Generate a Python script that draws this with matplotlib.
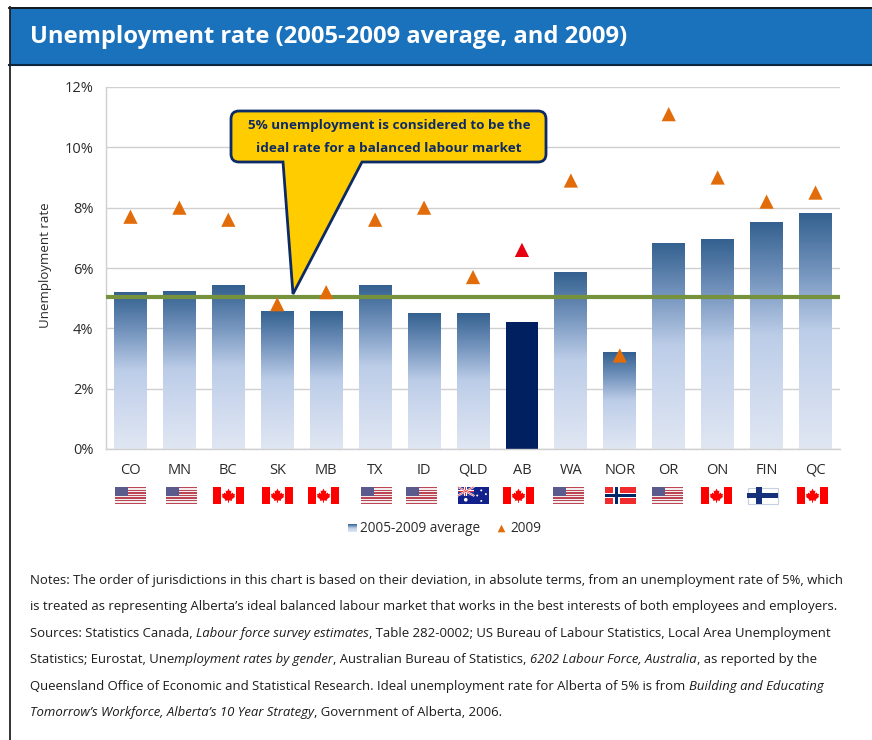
#!/usr/bin/env python3
# -*- coding: utf-8 -*-

"""Unemployment rate by jurisdiction: 2005-2009 average and 2009."""

import numpy as np
import matplotlib
matplotlib.use("Agg")
import matplotlib.pyplot as plt
from matplotlib.colors import LinearSegmentedColormap
from matplotlib.patches import PathPatch, Polygon, Rectangle
from matplotlib.path import Path

plt.rcParams['font.family'] = ['Open Sans', 'DejaVu Sans']

# Data
jurisdictions = ['CO', 'MN', 'BC', 'SK', 'MB', 'TX', 'ID', 'QLD', 'AB', 'WA', 'NOR', 'OR', 'ON', 'FIN', 'QC']
avg_2005_2009 = [5.2, 5.25, 5.42, 4.58, 4.58, 5.45, 4.52, 4.52, 4.2, 5.87, 3.2, 6.83, 6.95, 7.53, 7.83]
rate_2009 = [7.7, 8.0, 7.6, 4.8, 5.2, 7.6, 8.0, 5.7, 6.6, 8.9, 3.1, 11.1, 9.0, 8.2, 8.5]
flags = ['us', 'us', 'ca', 'ca', 'ca', 'us', 'us', 'au', 'ca', 'us', 'no', 'us', 'ca', 'fi', 'ca']
ideal_rate = 5.05
highlight = 'AB'
y_ticks = [0, 2, 4, 6, 8, 10, 12]

title = 'Unemployment rate (2005-2009 average, and 2009)'
callout_lines = ['5% unemployment is considered to be the', 'ideal rate for a balanced labour market']

# Each line is a list of (text, is_italic) runs
notes = [
    [("Notes: The order of jurisdictions in this chart is based on their deviation, in absolute terms, from an unemployment rate of 5%, which", False)],
    [("is treated as representing Alberta\u2019s ideal balanced labour market that works in the best interests of both employees and employers.", False)],
    [("Sources: Statistics Canada, ", False), ("Labour force survey estimates", True),
     (", Table 282-0002; US Bureau of Labour Statistics, Local Area Unemployment", False)],
    [("Statistics; Eurostat, Une", False), ("mployment rates by gender", True),
     (", Australian Bureau of Statistics, ", False), ("6202 Labour Force, Australia", True),
     (", as reported by the", False)],
    [("Queensland Office of Economic and Statistical Research. Ideal unemployment rate for Alberta of 5% is from ", False),
     ("Building and Educating", True)],
    [("Tomorrow\u2019s Workforce, Alberta\u2019s 10 Year Strategy", True), (", Government of Alberta, 2006.", False)],
]

# Layout, in pixels of the 872x740 canvas
W, H = 872, 740
PLOT_LEFT, PLOT_RIGHT, PLOT_TOP, PLOT_BOTTOM = 106, 840, 87, 449
FLAG_LEFT = [115, 166, 213, 262, 308, 361, 406, 458, 503, 553, 605, 652, 701, 747, 797]
FLAG_TOP, FLAG_W, FLAG_H = 487, 31, 17

TEXT_COLOR = '#2b2b2b'
GRID_COLOR = '#d0d0d0'
NAVY = '#0c2a66'
MARKER_COLOR = '#e36c0a'

bar_cmap = LinearSegmentedColormap.from_list(
    'bar_fade', ['#33608f', '#7494bd', '#bccde8', '#cfdaee', '#e0e7f3'])
gradient = np.linspace(0, 1, 256).reshape(-1, 1)

fig = plt.figure(figsize=(W / 100, H / 100), dpi=100, facecolor='white')

ax = fig.add_axes([PLOT_LEFT / W, 1 - PLOT_BOTTOM / H,
                   (PLOT_RIGHT - PLOT_LEFT) / W, (PLOT_BOTTOM - PLOT_TOP) / H])
overlay = fig.add_axes([0, 0, 1, 1], zorder=5)
overlay.set_xlim(0, W)
overlay.set_ylim(H, 0)
overlay.axis('off')
overlay.patch.set_alpha(0)


def draw_plot():
    x = np.arange(len(jurisdictions))
    bars = ax.bar(x, avg_2005_2009, width=0.67, color='none', zorder=2)
    for name, bar, val in zip(jurisdictions, bars, avg_2005_2009):
        if name == highlight:
            bar.set_facecolor('#002060')
            continue
        left = bar.get_x()
        im = ax.imshow(gradient, cmap=bar_cmap, aspect='auto', zorder=2,
                       extent=(left, left + bar.get_width(), 0, val), origin='upper')
        im.set_clip_path(bar)

    ax.axhline(ideal_rate, color='#76923c', lw=3, zorder=3)

    # 2009 markers, Alberta picked out in red
    point_colors = ['#e60012' if j == highlight else MARKER_COLOR for j in jurisdictions]
    ax.scatter(x, rate_2009, marker='^', s=105, c=point_colors, linewidths=0, zorder=4)

    ax.set_xlim(-0.5, len(jurisdictions) - 0.5)
    ax.set_ylim(0, 12)
    ax.set_yticks(y_ticks)
    ax.set_yticklabels([f'{t}%' for t in y_ticks], fontsize=10.5, color=TEXT_COLOR)
    ax.set_xticks(x)
    ax.set_xticklabels(jurisdictions, fontsize=10.5, color=TEXT_COLOR)
    ax.tick_params(axis='both', length=0)
    ax.tick_params(axis='x', pad=10)
    ax.tick_params(axis='y', pad=9)
    ax.grid(True, axis='y', color=GRID_COLOR, lw=1, zorder=0)
    ax.set_axisbelow(True)
    for side in ['top', 'right']:
        ax.spines[side].set_visible(False)
    for side in ['left', 'bottom']:
        ax.spines[side].set_color(GRID_COLOR)
        ax.spines[side].set_linewidth(1)
    overlay.text(46, 265, 'Unemployment rate', rotation=90, ha='center', va='center',
                 fontsize=9.5, color=TEXT_COLOR)


def draw_frame():
    overlay.add_patch(Rectangle((10, 7), W - 10, 58, fc='#1a72bc', ec='none'))
    overlay.plot([9, W], [7.5, 7.5], color='#111111', lw=1.3)
    overlay.plot([9, W], [65, 65], color='#10263f', lw=1.5)
    overlay.plot([9.5, 9.5], [7, H], color='#222222', lw=1.3)
    overlay.text(30, 37, title, color='white', fontsize=17.1, fontweight='bold',
                 ha='left', va='center')


def draw_callout():
    l, r, t, b, rad = 231, 546, 111, 162, 8
    verts = [(l + rad, t), (r - rad, t), (r, t), (r, t + rad), (r, b - rad), (r, b), (r - rad, b),
             (362, b), (293, 294), (283, b),
             (l + rad, b), (l, b), (l, b - rad), (l, t + rad), (l, t), (l + rad, t)]
    codes = [Path.MOVETO, Path.LINETO, Path.CURVE3, Path.CURVE3, Path.LINETO, Path.CURVE3, Path.CURVE3,
             Path.LINETO, Path.LINETO, Path.LINETO,
             Path.LINETO, Path.CURVE3, Path.CURVE3, Path.LINETO, Path.CURVE3, Path.CURVE3]
    overlay.add_patch(PathPatch(Path(verts, codes), fc='#ffcc00', ec=NAVY, lw=2, joinstyle='miter'))
    for text, y in zip(callout_lines, [125, 149]):
        overlay.text((l + r) / 2 + 0.5, y, text, color=NAVY, fontsize=9.7, fontweight='bold',
                     ha='center', va='center')


def maple_leaf(cx, cy, s):
    leaf = [(0, -1), (0.2, -0.6), (0.45, -0.7), (0.35, -0.2), (0.65, -0.4), (0.75, -0.15), (1, -0.2),
            (0.9, 0.15), (1, 0.25), (0.5, 0.65), (0.55, 0.85), (0.07, 0.8), (0.07, 1.15),
            (-0.07, 1.15), (-0.07, 0.8), (-0.55, 0.85), (-0.5, 0.65), (-1, 0.25), (-0.9, 0.15),
            (-1, -0.2), (-0.75, -0.15), (-0.65, -0.4), (-0.35, -0.2), (-0.45, -0.7), (-0.2, -0.6)]
    return Polygon([(cx + s * a, cy + s * b) for a, b in leaf], fc='#ff0000', ec='none')


def draw_flag(kind, x, y, w, h):
    rect = lambda x0, y0, ww, hh, c: overlay.add_patch(Rectangle((x0, y0), ww, hh, fc=c, ec='none'))
    if kind == 'us':
        for i in range(13):
            rect(x, y + i * h / 13, w, h / 13 + 0.1, '#bd4654' if i % 2 == 0 else '#f3ecec')
        rect(x, y, w * 0.41, h * 7 / 13, '#5a5a8c')
    elif kind == 'ca':
        rect(x, y, w, h, 'white')
        rect(x, y, w / 4, h, '#ff0000')
        rect(x + w * 3 / 4, y, w / 4, h, '#ff0000')
        overlay.add_patch(maple_leaf(x + w / 2, y + h * 0.48, 6.6))
    elif kind == 'no':
        rect(x, y, w, h, '#ef2b2d')
        rect(x + w * 0.27, y, w * 0.2, h, 'white')
        rect(x, y + h * 0.36, w, h * 0.28, 'white')
        rect(x + w * 0.33, y, w * 0.09, h, '#002868')
        rect(x, y + h * 0.43, w, h * 0.14, '#002868')
    elif kind == 'fi':
        rect(x, y, w, h, 'white')
        overlay.add_patch(Rectangle((x + 0.5, y + 0.5), w - 1, h - 1, fc='none', ec='#c5cfe2', lw=0.8))
        rect(x + w * 0.3, y, w * 0.18, h, '#16307c')
        rect(x, y + h * 0.38, w, h * 0.26, '#16307c')
    elif kind == 'au':
        rect(x, y, w, h, '#12208c')
        cw, ch = w / 2, h / 2
        rect(x, y, cw, ch, '#2b3a9a')
        overlay.plot([x, x + cw], [y, y + ch], color='white', lw=1.4)
        overlay.plot([x, x + cw], [y + ch, y], color='white', lw=1.4)
        overlay.plot([x, x + cw], [y, y + ch], color='#e0303a', lw=0.5)
        overlay.plot([x, x + cw], [y + ch, y], color='#e0303a', lw=0.5)
        rect(x + cw / 2 - 1.5, y, 3, ch, 'white')
        rect(x, y + ch / 2 - 1.2, cw, 2.4, 'white')
        rect(x + cw / 2 - 0.7, y, 1.4, ch, '#e0303a')
        rect(x, y + ch / 2 - 0.5, cw, 1, '#e0303a')
        stars = [(0.25, 0.75), (0.75, 0.2), (0.9, 0.42), (0.62, 0.5), (0.75, 0.82)]
        overlay.scatter([x + a * w for a, _ in stars], [y + b * h for _, b in stars],
                        s=[7, 2, 2, 2, 2], c='white', linewidths=0)


def draw_legend():
    im = overlay.imshow(gradient, cmap=bar_cmap, aspect='auto', extent=(348, 357, 532, 524))
    im.set_zorder(2)
    overlay.set_xlim(0, W)
    overlay.set_ylim(H, 0)
    overlay.text(360, 528.5, '2005-2009 average', fontsize=9.8, color=TEXT_COLOR, ha='left', va='center')
    overlay.scatter([501], [528], marker='^', s=30, c=MARKER_COLOR, linewidths=0)
    overlay.text(510, 528.5, '2009', fontsize=9.8, color=TEXT_COLOR, ha='left', va='center')


def draw_notes():
    # Runs on a line are laid out one after another using their measured widths
    renderer = fig.canvas.get_renderer()
    for i, line in enumerate(notes):
        x, y = 30, 580.5 + i * 26.4
        for text, italic in line:
            t = overlay.text(x, y, text, fontsize=9.42, color='#1c1c1c', ha='left', va='center',
                             style='italic' if italic else 'normal')
            x += t.get_window_extent(renderer).width


draw_plot()
draw_frame()
draw_callout()
for kind, left in zip(flags, FLAG_LEFT):
    draw_flag(kind, left, FLAG_TOP, FLAG_W, FLAG_H)
draw_legend()
draw_notes()

fig.savefig('out.png', dpi=100)
